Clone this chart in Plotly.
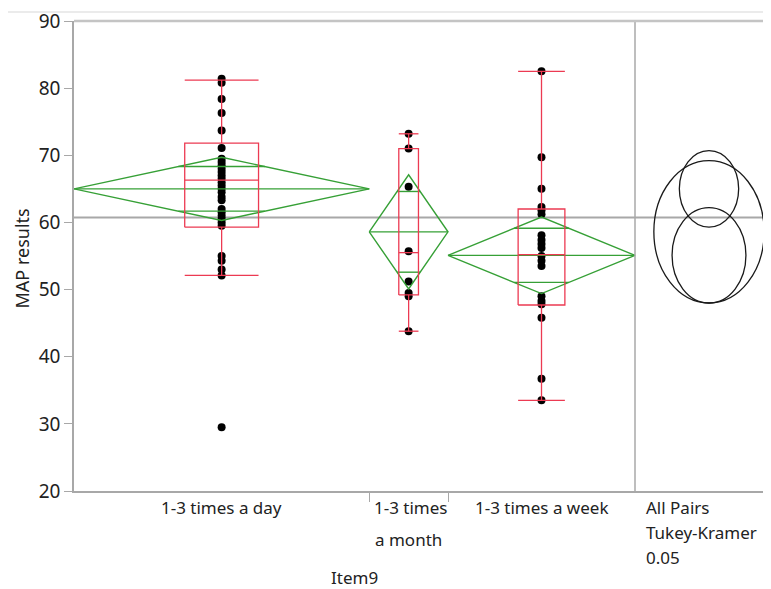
import numpy as np
import plotly.graph_objects as go

# ---------------- data ----------------
categories = ["1-3 times a day", "1-3 times a month", "1-3 times a week"]
counts = [30, 8, 19]

values_day = [81.4, 80.8, 78.4, 76.3, 73.7, 71.1, 69.5, 69.0, 68.5, 68.0,
              67.5, 67.0, 66.5, 66.0, 65.5, 65.0, 64.5, 63.8, 63.3, 62.0,
              61.5, 61.0, 60.5, 60.0, 59.5, 55.0, 54.3, 53.0, 52.1, 29.5]
values_month = [73.2, 71.0, 65.3, 55.7, 51.2, 49.5, 49.0, 43.8]
values_week = [82.5, 69.7, 65.0, 62.3, 61.8, 61.2, 58.1, 57.4, 56.8, 56.2,
               55.0, 54.3, 53.5, 49.0, 48.3, 47.8, 45.8, 36.7, 33.5]
group_values = [values_day, values_month, values_week]

means = [65.0, 58.6, 55.1]
ci_half = [4.7, 8.5, 5.7]
q1 = [59.3, 49.2, 47.7]
medians = [66.3, 55.5, 55.2]
q3 = [71.8, 71.0, 62.0]
whisk_lo = [52.1, 43.8, 33.5]
whisk_hi = [81.2, 73.2, 82.5]
grand_mean = 60.75
circle_radius = [5.7, 10.6, 7.1]

y_ticks = [20, 30, 40, 50, 60, 70, 80, 90]

# ---------------- layout constants (window pixels) ----------------
OFF = 8                      # page body margin
WIN_W, WIN_H = 771, 589
W, H = WIN_W - OFF, WIN_H - OFF
L, T, B = 74, 18, 491        # plot area in window pixels
N = sum(counts)
px_per_x = (635 - L) / N
px_per_y = (B - T) / 70.0
circle_cx = (709 - L) / px_per_x
circle_aspect = 0.77

GREEN = "#36A036"
RED = "#EC3A52"
GRAY = "#A8A8A8"
TXT = "#222222"
FONT = "Noto Sans"

edges = np.concatenate([[0], np.cumsum(counts)])
fig = go.Figure()

# dots
for i, vals in enumerate(group_values):
    c = (edges[i] + edges[i + 1]) / 2
    fig.add_trace(go.Scatter(x=[c] * len(vals), y=vals, mode="markers",
                             marker=dict(color="black", size=8),
                             hoverinfo="y", showlegend=False))

for i in range(3):
    x0, x1 = edges[i], edges[i + 1]
    c = (x0 + x1) / 2
    half = (x1 - x0) / 2
    m, h = means[i], ci_half[i]
    # means diamond
    fig.add_trace(go.Scatter(x=[x0, c, x1, c, x0], y=[m, m + h, m, m - h, m],
                             mode="lines", line=dict(color=GREEN, width=1.4),
                             hoverinfo="skip", showlegend=False))
    fig.add_trace(go.Scatter(x=[x0, x1], y=[m, m], mode="lines",
                             line=dict(color=GREEN, width=1.4),
                             hoverinfo="skip", showlegend=False))
    d = h / np.sqrt(2)
    w = half * (1 - 1 / np.sqrt(2))
    for yy in (m + d, m - d):
        fig.add_trace(go.Scatter(x=[c - w, c + w], y=[yy, yy], mode="lines",
                                 line=dict(color=GREEN, width=1.4),
                                 hoverinfo="skip", showlegend=False))
    # box plot
    bw = (x1 - x0) * 0.125
    fig.add_trace(go.Scatter(x=[c - bw, c + bw, c + bw, c - bw, c - bw],
                             y=[q1[i], q1[i], q3[i], q3[i], q1[i]],
                             mode="lines", line=dict(color=RED, width=1.3),
                             hoverinfo="skip", showlegend=False))
    segs_x = [c - bw, c + bw, None, c, c, None, c, c, None, c - bw, c + bw, None, c - bw, c + bw]
    segs_y = [medians[i], medians[i], None, q3[i], whisk_hi[i], None, q1[i], whisk_lo[i], None,
              whisk_hi[i], whisk_hi[i], None, whisk_lo[i], whisk_lo[i]]
    fig.add_trace(go.Scatter(x=segs_x, y=segs_y, mode="lines",
                             line=dict(color=RED, width=1.3),
                             hoverinfo="skip", showlegend=False))


def py(p):
    return (B - p) / (B - T)


def pxp(p):
    return (p - L) / (WIN_W - L)


shapes = []
shapes.append(dict(type="line", xref="paper", yref="y", x0=0, x1=1, y0=grand_mean, y1=grand_mean,
                   line=dict(color=GRAY, width=2), layer="below"))
shapes.append(dict(type="line", xref="x", yref="paper", x0=N, x1=N, y0=0, y1=1,
                   line=dict(color=GRAY, width=1.5)))
shapes.append(dict(type="line", xref="paper", yref="paper", x0=0, x1=1, y0=1, y1=1,
                   line=dict(color="#C4C4C4", width=2.5)))
shapes.append(dict(type="line", xref="paper", yref="paper", x0=pxp(OFF), x1=1,
                   y0=py(OFF + 1), y1=py(OFF + 1), line=dict(color="#E4E4E4", width=1.5)))
for m, r in zip(means, circle_radius):
    rx = r * px_per_y * circle_aspect / px_per_x
    shapes.append(dict(type="circle", xref="x", yref="y",
                       x0=circle_cx - rx, x1=circle_cx + rx, y0=m - r, y1=m + r,
                       line=dict(color="#1A1A1A", width=1.3)))

annotations = []
label_font = dict(family=FONT, size=17, color=TXT)


def label(text, x, ypx, xref="x", xanchor="center"):
    annotations.append(dict(text=text, x=x, y=py(ypx), xref=xref, yref="paper",
                            xanchor=xanchor, yanchor="middle", showarrow=False,
                            font=label_font))


label("1-3 times a day", (edges[0] + edges[1]) / 2, 508)
label("1-3 times", (edges[1] + edges[2]) / 2 + 0.2, 508)
label("a month", (edges[1] + edges[2]) / 2, 540)
label("1-3 times a week", (edges[2] + edges[3]) / 2, 508)
for txt, yp in [("All Pairs", 508), ("Tukey-Kramer", 533), ("0.05", 558)]:
    label(txt, (644 - L) / px_per_x, yp, xanchor="left")
label("Item9", N / 2, 578)
annotations.append(dict(text="MAP results", x=pxp(22), y=py(257), xref="paper",
                        yref="paper", xanchor="center", yanchor="middle",
                        textangle=-90, showarrow=False,
                        font=dict(family=FONT, size=18, color=TXT)))

fig.update_layout(
    width=W, height=H,
    margin=dict(l=L - OFF, r=0, t=T - OFF, b=H - (B - OFF), pad=0),
    paper_bgcolor="white", plot_bgcolor="white",
    showlegend=False,
    shapes=shapes, annotations=annotations,
    xaxis=dict(range=[0, (WIN_W - L) / px_per_x], showgrid=False, zeroline=False,
               showline=True, linecolor=GRAY, linewidth=1.5,
               tickmode="array", tickvals=[edges[1], edges[2]], ticks="outside",
               ticklen=9, tickcolor=GRAY, tickwidth=1, showticklabels=False),
    yaxis=dict(range=[20, 90], showgrid=False, zeroline=False,
               showline=True, linecolor=GRAY, linewidth=1.5,
               tickmode="array", tickvals=y_ticks, ticks="outside", ticklen=8,
               tickcolor=GRAY, tickwidth=1, ticklabeloverflow="allow",
               tickfont=dict(family=FONT, size=19, color=TXT)),
)

fig.write_html("out.html")
